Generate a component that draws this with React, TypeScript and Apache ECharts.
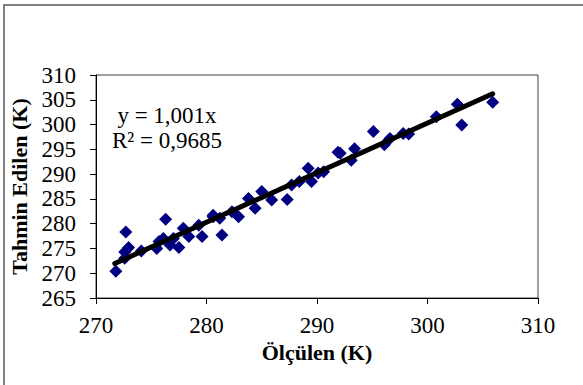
import React, { useEffect, useRef } from "react";
import * as echarts from "echarts";

const measured: number[] = [
  271.8, 272.7, 272.95, 272.6, 272.6, 274.1, 275.5, 275.7, 276.3, 276.1,
  276.7, 277.5, 277.0, 277.9, 278.4, 279.3, 279.6, 280.6, 281.4, 280.6,
  281.2, 282.3, 282.9, 283.8, 284.4, 285.0, 285.9, 287.3, 287.7, 288.4,
  289.2, 289.5, 290.1, 290.6, 291.9, 292.1, 293.4, 293.1, 295.1, 296.1,
  296.6, 297.8, 298.3, 300.8, 302.7, 303.1, 305.9,
];
const predicted: number[] = [
  270.4, 278.3, 275.2, 273.0, 274.3, 274.5, 275.0, 276.4, 280.9, 277.0,
  275.7, 275.2, 277.0, 279.1, 277.4, 279.7, 277.4, 281.4, 277.7, 281.7,
  281.1, 282.4, 281.4, 285.1, 283.1, 286.5, 284.8, 284.9, 287.8, 288.5,
  291.2, 288.5, 290.2, 290.5, 294.4, 294.2, 295.1, 292.8, 298.6, 295.9,
  297.2, 298.2, 298.1, 301.6, 304.1, 299.9, 304.5,
];
const trendX: number[] = [271.7, 305.9];
const trendY: number[] = [271.97, 306.21];
const equationText = "y = 1,001x";
const r2Text = "R² = 0,9685";
const xTitle = "Ölçülen (K)";
const yTitle = "Tahmin Edilen (K)";

const FONT = "'Liberation Serif', 'Times New Roman', serif";

export default function App() {
  const ref = useRef<HTMLDivElement>(null);
  useEffect(() => {
    document.body.style.margin = "0";
    if (!ref.current) return;
    const chart = echarts.init(ref.current, undefined, { renderer: "svg" });
    const scatterData = measured.map((x, i) => [x, predicted[i]]);
    const trendData = trendX.map((x, i) => [x, trendY[i]]);
    chart.setOption({
      animation: false,
      backgroundColor: "#ffffff",
      grid: {
        left: 94,
        top: 75,
        right: 45,
        bottom: 87,
        show: true,
        borderColor: "#404040",
        borderWidth: 1,
        backgroundColor: "#ffffff",
      },
      xAxis: {
        type: "value",
        min: 270,
        max: 310,
        interval: 10,
        name: xTitle,
        nameLocation: "middle",
        nameGap: 43,
        nameTextStyle: { fontFamily: FONT, fontSize: 22, fontWeight: "bold", color: "#000" },
        axisLine: { show: true, onZero: false, lineStyle: { color: "#000", width: 1 } },
        axisTick: { show: true, inside: false, length: 6, lineStyle: { color: "#000" } },
        axisLabel: { fontFamily: FONT, fontSize: 23, color: "#000", margin: 16 },
        splitLine: { show: false },
      },
      yAxis: {
        type: "value",
        min: 265,
        max: 310,
        interval: 5,
        name: yTitle,
        nameLocation: "middle",
        nameGap: 66,
        nameRotate: 90,
        nameTextStyle: { fontFamily: FONT, fontSize: 22, fontWeight: "bold", color: "#000" },
        axisLine: { show: true, onZero: false, lineStyle: { color: "#000", width: 1 } },
        axisTick: { show: true, inside: false, length: 6, lineStyle: { color: "#000" } },
        axisLabel: { fontFamily: FONT, fontSize: 23, color: "#000", margin: 20 },
        splitLine: { show: false },
      },
      series: [
        {
          type: "scatter",
          data: scatterData,
          symbol: "diamond",
          symbolSize: [13, 13],
          itemStyle: { color: "#000080", opacity: 1 },
          z: 2,
        },
        {
          type: "line",
          data: trendData,
          showSymbol: false,
          symbol: "none",
          lineStyle: { color: "#000", width: 5, cap: "round" },
          z: 3,
        },
      ],
      graphic: [
        {
          type: "rect",
          shape: { x: 4, y: 5, width: 700, height: 500 },
          style: { fill: "none", stroke: "#808080", lineWidth: 2 },
          silent: true,
        },
        {
          type: "text",
          x: 167,
          y: 115,
          style: {
            text: equationText,
            fontFamily: FONT,
            fontSize: 23,
            fill: "#000",
            align: "center",
            verticalAlign: "middle",
          },
        },
        {
          type: "text",
          x: 167,
          y: 140,
          style: {
            text: r2Text,
            fontFamily: FONT,
            fontSize: 23,
            fill: "#000",
            align: "center",
            verticalAlign: "middle",
          },
        },
      ],
    });
    return () => chart.dispose();
  }, []);
  return <div ref={ref} style={{ width: 583, height: 385 }} />;
}
